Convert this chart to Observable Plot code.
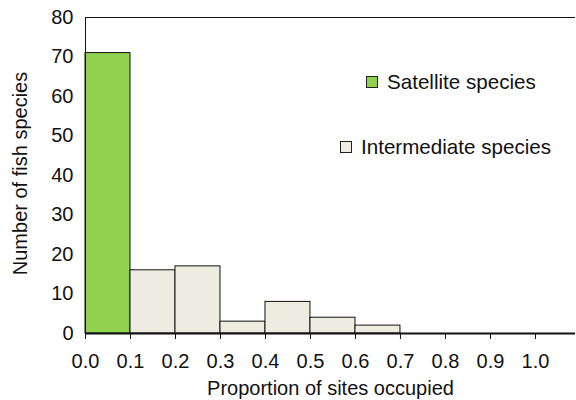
<!DOCTYPE html>
<html>
<head>
<meta charset="utf-8">
<script src="https://cdn.jsdelivr.net/npm/d3@7"></script>
<script src="https://cdn.jsdelivr.net/npm/@observablehq/plot@0.6"></script>
<style>
  html, body { margin: 0; padding: 0; background: #fff; }
  #wrap { position: relative; width: 576px; height: 400px; font-family: "Liberation Sans", Arial, sans-serif; }
  .leg { position: absolute; display: flex; align-items: center; font-size: 20.6px; color: #111; white-space: nowrap; }
  .sw { width: 10px; height: 10px; border: 1px solid #222; margin-right: 9px; }
</style>
</head>
<body>
<div id="wrap"></div>
<script>
// Data
const binStarts = [0.0, 0.1, 0.2, 0.3, 0.4, 0.5, 0.6, 0.7, 0.8, 0.9];
const counts    = [71, 16, 17, 3, 8, 4, 2, 0, 0, 0];
const groups    = ["Satellite species", "Intermediate species", "Intermediate species", "Intermediate species",
                   "Intermediate species", "Intermediate species", "Intermediate species", "Intermediate species",
                   "Intermediate species", "Intermediate species"];
const xTicks = [0.0, 0.1, 0.2, 0.3, 0.4, 0.5, 0.6, 0.7, 0.8, 0.9, 1.0];
const yTicks = [0, 10, 20, 30, 40, 50, 60, 70, 80];
const legendLabels = ["Satellite species", "Intermediate species"];
const legendColors = ["#92D050", "#EEECE1"];

const bins = binStarts.map((s, i) => ({x1: s, x2: +(s + 0.1).toFixed(1), count: counts[i], group: groups[i]}));

const chart = Plot.plot({
  width: 576,
  height: 400,
  marginLeft: 85,
  marginRight: 1,
  marginTop: 17,
  marginBottom: 67,
  style: {fontFamily: "Liberation Sans, Arial, sans-serif", fontSize: "20px", color: "#111", background: "white"},
  x: {domain: [0, 1.089]},
  y: {domain: [0, 80]},
  color: {domain: legendLabels, range: legendColors},
  marks: [
    Plot.rect(bins.filter(d => d.count > 0), {x1: "x1", x2: "x2", y1: 0, y2: "count", fill: "group", stroke: "#111", strokeWidth: 1}),
    Plot.axisX(xTicks, {tickFormat: d3.format(".1f"), tickSize: 6, tickPadding: 14, stroke: "#111", label: null}),
    Plot.axisY(yTicks, {tickSize: 0, tickPadding: 12, label: null}),
    Plot.text(["Proportion of sites occupied"], {frameAnchor: "bottom", dy: 55, text: d => d, lineAnchor: "middle"}),
    Plot.text(["Number of fish species"], {frameAnchor: "left", dx: -65, dy: -2, rotate: -90, text: d => d, textAnchor: "middle", lineAnchor: "middle"}),
    Plot.ruleY([80], {stroke: "#111", strokeWidth: 1.2}),
    Plot.ruleX([0], {stroke: "#111", strokeWidth: 1}),
    Plot.ruleY([0], {stroke: "#111", strokeWidth: 2})
  ]
});
const wrap = document.getElementById("wrap");
wrap.appendChild(chart);

// legend overlay
const legPos = [{left: 366, top: 70}, {left: 340, top: 135}];
legendLabels.forEach((lab, i) => {
  const d = document.createElement("div");
  d.className = "leg";
  d.style.left = legPos[i].left + "px";
  d.style.top = legPos[i].top + "px";
  const sw = document.createElement("span");
  sw.className = "sw";
  sw.style.background = legendColors[i];
  const t = document.createElement("span");
  t.textContent = lab;
  d.appendChild(sw); d.appendChild(t);
  wrap.appendChild(d);
});
</script>
</body>
</html>
